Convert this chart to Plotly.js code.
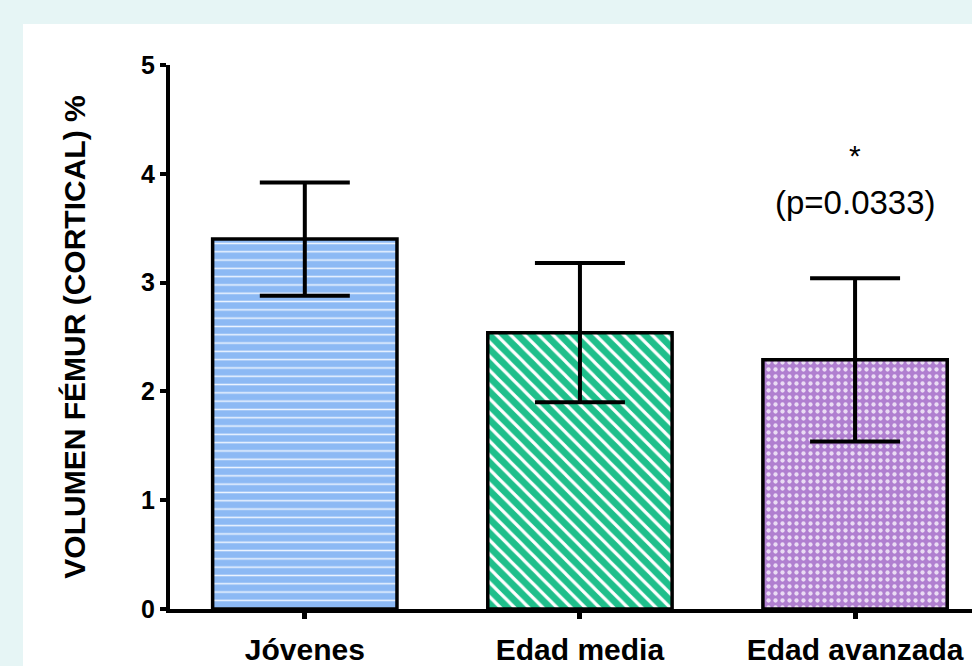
<!DOCTYPE html>
<html>
<head>
<meta charset="utf-8">
<script src="https://cdn.plot.ly/plotly-3.0.1.min.js"></script>
<style>
html,body{margin:0;padding:0;background:#e6f5f5;width:972px;height:666px;overflow:hidden;}
#chart{position:absolute;left:23px;top:24px;width:949px;height:642px;background:#fff;}
</style>
</head>
<body>
<div id="chart"></div>
<script>
const categories = ["Jóvenes", "Edad media", "Edad avanzada"];
const means = [3.40, 2.54, 2.29];
const sds = [0.52, 0.64, 0.75];
const yTicks = [0, 1, 2, 3, 4, 5];
const sigStar = "*";
const pLabel = "(p=0.0333)";

const fillColors = ["#8cb9f4", "#1fbf8b", "#b07fd0"];
const patFg = ["#eef5ff", "#ffffff", "#eadcf4"];
const patShapes = ["-", "\\", "."];
const patSizes = [8.3, 10, 7];
const patSolid = [0.18, 0.32, 0.3];

const traces = categories.map((c, i) => ({
  type: "bar",
  x: [c],
  y: [means[i]],
  width: 0.67,
  marker: {
    color: fillColors[i],
    line: {color: "#000", width: 3.5},
    pattern: {shape: patShapes[i], bgcolor: fillColors[i], fgcolor: patFg[i], fgopacity: 1, size: patSizes[i], solidity: patSolid[i], fillmode: "overlay"}
  },
  error_y: {type: "data", array: [sds[i]], visible: true, color: "#000", thickness: 4, width: 45},
  showlegend: false,
  hoverinfo: "skip"
}));

const font = "Liberation Sans, Arial, sans-serif";
const layout = {
  width: 949, height: 642,
  margin: {l: 147, r: 0, t: 41, b: 57},
  paper_bgcolor: "#ffffff",
  plot_bgcolor: "#ffffff",
  bargap: 0,
  font: {family: font, color: "#000"},
  xaxis: {
    type: "category",
    categoryorder: "array",
    categoryarray: categories,
    range: [-0.49, 2.425],
    showline: true, linecolor: "#000", linewidth: 4,
    ticks: "outside", ticklen: 6, tickwidth: 5, tickcolor: "#000",
    tickfont: {family: font, size: 30, color: "#000", weight: "bold"},
    ticklabelstandoff: 5,
    showgrid: false, zeroline: false
  },
  yaxis: {
    range: [0, 5],
    tickvals: yTicks,
    ticktext: yTicks.map(String),
    showline: true, linecolor: "#000", linewidth: 4,
    ticks: "outside", ticklen: 6, tickwidth: 4, tickcolor: "#000",
    tickfont: {family: font, size: 25, color: "#000", weight: "bold"},
    showgrid: false, zeroline: false,
    title: {text: "VOLUMEN FÉMUR (CORTICAL) %", font: {family: font, size: 30, color: "#000", weight: "bold"}, standoff: 48}
  },
  annotations: [
    {x: "Edad avanzada", y: 4.17, xref: "x", yref: "y", text: sigStar, showarrow: false, font: {family: font, size: 30, color: "#000"}},
    {x: "Edad avanzada", y: 3.74, xref: "x", yref: "y", text: pLabel, showarrow: false, font: {family: font, size: 33, color: "#000"}}
  ]
};

Plotly.newPlot("chart", traces, layout, {displayModeBar: false, staticPlot: true});
</script>
</body>
</html>
